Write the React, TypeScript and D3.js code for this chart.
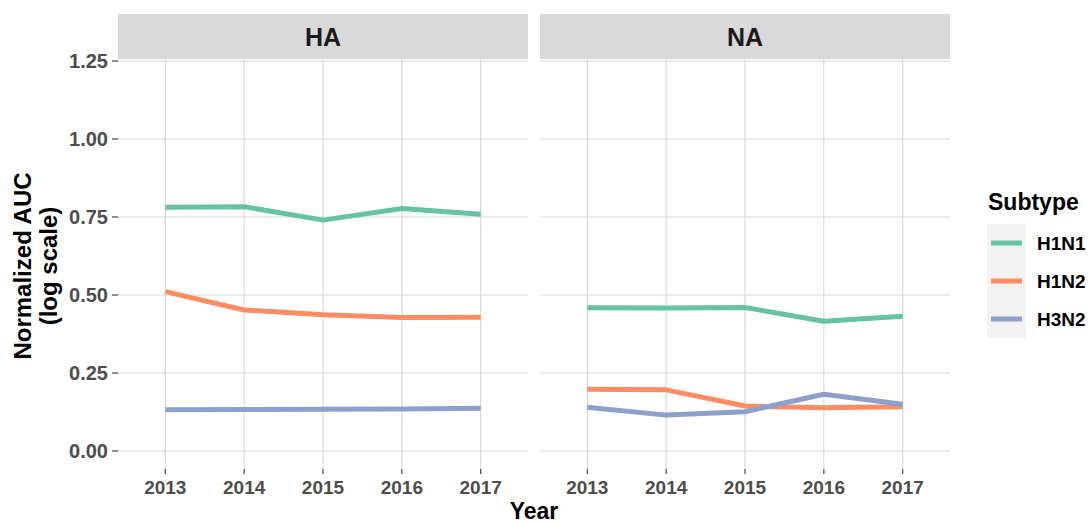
import * as d3 from "d3";

const years = [2013, 2014, 2015, 2016, 2017];
const subtypes = ["H1N1", "H1N2", "H3N2"];
const panels = ["HA", "NA"];

// HA segment
const haH1N1 = [0.781, 0.783, 0.74, 0.777, 0.759];
const haH1N2 = [0.511, 0.452, 0.437, 0.428, 0.429];
const haH3N2 = [0.132, 0.133, 0.134, 0.135, 0.137];
// NA segment
const naH1N1 = [0.459, 0.458, 0.46, 0.416, 0.432];
const naH1N2 = [0.198, 0.196, 0.144, 0.139, 0.142];
const naH3N2 = [0.14, 0.115, 0.126, 0.182, 0.15];

const yTicks = [0, 0.25, 0.5, 0.75, 1.0, 1.25];
const colors = ["#66C2A5", "#FC8D62", "#8DA0CB"];

const seriesByPanel: Record<string, number[][]> = {
  HA: [haH1N1, haH1N2, haH3N2],
  NA: [naH1N1, naH1N2, naH3N2],
};

const W = 1091;
const H = 523;
const panelTop = 59;
const panelBottom = 469;
const panelX = [
  [118, 528],
  [540, 950],
];
const font = "'Liberation Sans', Arial, Helvetica, sans-serif";
const gridColor = "#D6D6D6";

export default function App() {
  const y = d3.scaleLinear().domain([0, 1.25]).range([451, 61]);
  const colour = d3.scaleOrdinal<string, string>().domain(subtypes).range(colors);

  return (
    <svg
      width={W}
      height={H}
      style={{ position: "absolute", left: 0, top: 0, background: "#fff" }}
      fontFamily={font}
    >
      {panels.map((p, pi) => {
        const [x0, x1] = panelX[pi];
        const x = d3.scaleLinear().domain([2012.4, 2017.6]).range([x0, x1]);
        const line = d3
          .line<number>()
          .x((_, i) => x(years[i]))
          .y((d) => y(d));
        return (
          <g key={p}>
            {/* strip */}
            <rect x={x0} y={14} width={x1 - x0} height={panelTop - 14} fill="#D9D9D9" />
            <text
              x={(x0 + x1) / 2}
              y={37}
              textAnchor="middle"
              dominantBaseline="central"
              fontSize={25}
              fontWeight="bold"
              fill="#1A1A1A"
            >
              {p}
            </text>
            {/* grid */}
            {yTicks.map((t) => (
              <line key={t} x1={x0} x2={x1} y1={y(t)} y2={y(t)} stroke={gridColor} strokeWidth={1.1} />
            ))}
            {years.map((yr) => (
              <line
                key={yr}
                x1={x(yr)}
                x2={x(yr)}
                y1={panelTop}
                y2={panelBottom}
                stroke={gridColor}
                strokeWidth={1.1}
              />
            ))}
            {/* series */}
            {seriesByPanel[p].map((vals, si) => (
              <path
                key={si}
                d={line(vals) ?? ""}
                fill="none"
                stroke={colour(subtypes[si])}
                strokeWidth={5}
                strokeLinejoin="round"
              />
            ))}
            {/* x axis */}
            {years.map((yr) => (
              <g key={yr}>
                <line x1={x(yr)} x2={x(yr)} y1={panelBottom} y2={panelBottom + 5} stroke="#333" strokeWidth={1.1} />
                <text
                  x={x(yr)}
                  y={494}
                  textAnchor="middle"
                  fontSize={19}
                  fontWeight="bold"
                  fill="#4D4D4D"
                >
                  {yr}
                </text>
              </g>
            ))}
          </g>
        );
      })}

      {/* y axis */}
      {yTicks.map((t) => (
        <g key={t}>
          <line x1={112} x2={118} y1={y(t)} y2={y(t)} stroke="#333" strokeWidth={1.1} />
          <text
            x={108}
            y={y(t)}
            textAnchor="end"
            dominantBaseline="central"
            fontSize={20}
            fontWeight="bold"
            fill="#4D4D4D"
          >
            {d3.format(".2f")(t)}
          </text>
        </g>
      ))}

      {/* axis titles */}
      <text x={534} y={519} textAnchor="middle" fontSize={23} fontWeight="bold" fill="#000">
        Year
      </text>
      <g transform="translate(22,266) rotate(-90)">
        <text textAnchor="middle" dominantBaseline="central" fontSize={24} fontWeight="bold" fill="#000">
          Normalized AUC
        </text>
      </g>
      <g transform="translate(48,266) rotate(-90)">
        <text textAnchor="middle" dominantBaseline="central" fontSize={24} fontWeight="bold" fill="#000">
          (log scale)
        </text>
      </g>

      {/* legend */}
      <text x={988} y={210} fontSize={23} fontWeight="bold" fill="#000">
        Subtype
      </text>
      <rect x={987} y={224} width={39} height={114} fill="#F2F2F2" />
      {subtypes.map((s, i) => {
        const ly = 243 + i * 38;
        return (
          <g key={s}>
            <line x1={991} x2={1022} y1={ly} y2={ly} stroke={colour(s)} strokeWidth={5} />
            <text
              x={1037}
              y={ly}
              dominantBaseline="central"
              fontSize={19}
              fontWeight="bold"
              fill="#000"
            >
              {s}
            </text>
          </g>
        );
      })}
    </svg>
  );
}
